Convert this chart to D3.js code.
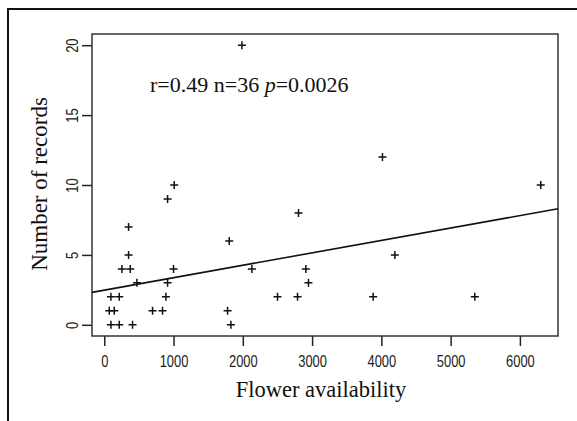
<!DOCTYPE html>
<html>
<head>
  <meta charset="UTF-8">
  <title>Flower availability</title>
  <script src="https://d3js.org/d3.v7.min.js"></script>
  <style>
    body { margin: 0; background: #fff; }
  </style>
</head>
<body>
  <div id="chart"></div>
  <script>
    // values
    const flowers = [1010, 914, 351, 351, 255, 375, 471, 1000, 914, 890, 96, 216, 72, 144, 697, 841,
                     96, 216, 408, 1804, 1780, 1828, 2131, 4016, 2804, 2910, 2948, 2501, 2790, 3882,
                     4195, 6301, 5349, 1987];
    const records = [10, 9, 7, 5, 4, 4, 3, 4, 3, 2, 2, 2, 1, 1, 1, 1,
                     0, 0, 0, 6, 1, 0, 4, 12, 8, 4, 3, 2, 2, 2,
                     5, 10, 2, 20];
    const xTicks = [0, 1000, 2000, 3000, 4000, 5000, 6000];
    const yTicks = [0, 5, 10, 15, 20];
    const fitIntercept = 2.48, fitSlope = 0.000889;
    const statText = ["r=0.49 n=36 ", "p", "=0.0026"];

    const W = 577, H = 421;
    const box = {left: 92, right: 558, top: 34, bottom: 336};

    const svg = d3.select("#chart").append("svg")
      .attr("width", W).attr("height", H);

    svg.append("rect").attr("width", W).attr("height", H).attr("fill", "#fff");

    // outer frame (only top and left show)
    svg.append("rect")
      .attr("x", 8).attr("y", 9).attr("width", W + 20).attr("height", H + 20)
      .attr("fill", "none").attr("stroke", "#111").attr("stroke-width", 2);

    // R style: 4% padding on each side
    const xr = d3.extent(flowers), yr = d3.extent(records);
    const xp = (xr[1] - xr[0]) * 0.04, yp = (yr[1] - yr[0]) * 0.04;
    const x = d3.scaleLinear().domain([xr[0] - xp, xr[1] + xp]).range([box.left, box.right]);
    const y = d3.scaleLinear().domain([yr[0] - yp, yr[1] + yp]).range([box.bottom, box.top]);

    const tickFont = "'Liberation Sans', Arial, sans-serif";
    const serif = "'Liberation Serif', 'Times New Roman', serif";

    const xAxis = svg.append("g")
      .attr("transform", `translate(0,${box.bottom})`)
      .call(d3.axisBottom(x).tickValues(xTicks).tickSize(10).tickPadding(9).tickFormat(d3.format("d")));
    xAxis.select(".domain").remove();
    xAxis.selectAll("line").attr("stroke", "#222").attr("stroke-width", 1.5);
    xAxis.selectAll("text")
      .attr("transform", "scale(0.76,1)")
      .style("font-family", tickFont).style("font-size", "17px").attr("fill", "#222");

    const yAxis = svg.append("g")
      .attr("transform", `translate(${box.left},0)`)
      .call(d3.axisLeft(y).tickValues(yTicks).tickSize(10).tickPadding(0));
    yAxis.select(".domain").remove();
    yAxis.selectAll("line").attr("stroke", "#222").attr("stroke-width", 1.5);
    yAxis.selectAll("text")
      .attr("x", 0).attr("dy", null)
      .attr("transform", "translate(-14,0) rotate(-90) scale(0.76,1)")
      .attr("text-anchor", "middle")
      .style("font-family", tickFont).style("font-size", "17px").attr("fill", "#222");

    svg.append("rect")
      .attr("x", box.left).attr("y", box.top)
      .attr("width", box.right - box.left).attr("height", box.bottom - box.top)
      .attr("fill", "none").attr("stroke", "#333").attr("stroke-width", 1.5);

    // regression line across the box
    const [x0, x1] = x.domain();
    svg.append("line")
      .attr("x1", x(x0)).attr("y1", y(fitIntercept + fitSlope * x0))
      .attr("x2", x(x1)).attr("y2", y(fitIntercept + fitSlope * x1))
      .attr("stroke", "#111").attr("stroke-width", 1.6);

    svg.selectAll(".pt")
      .data(flowers.map((f, i) => [f, records[i]]))
      .enter().append("path")
      .attr("class", "pt")
      .attr("transform", d => `translate(${x(d[0])},${y(d[1])})`)
      .attr("d", "M-4,0H4M0,-4V4")
      .attr("stroke", "#111").attr("stroke-width", 1.5).attr("fill", "none");

    const stat = svg.append("text")
      .attr("x", 150).attr("y", 92)
      .style("font-family", serif).style("font-size", "22px").attr("fill", "#111");
    stat.append("tspan").text(statText[0]);
    stat.append("tspan").style("font-style", "italic").text(statText[1]);
    stat.append("tspan").text(statText[2]);

    svg.append("text")
      .attr("x", 321).attr("y", 397)
      .attr("text-anchor", "middle")
      .style("font-family", serif).style("font-size", "22.5px").attr("fill", "#111")
      .text("Flower availability");

    svg.append("text")
      .attr("transform", `translate(47,184) rotate(-90)`)
      .attr("text-anchor", "middle")
      .style("font-family", serif).style("font-size", "23px").attr("fill", "#111")
      .text("Number of records");
  </script>
</body>
</html>
